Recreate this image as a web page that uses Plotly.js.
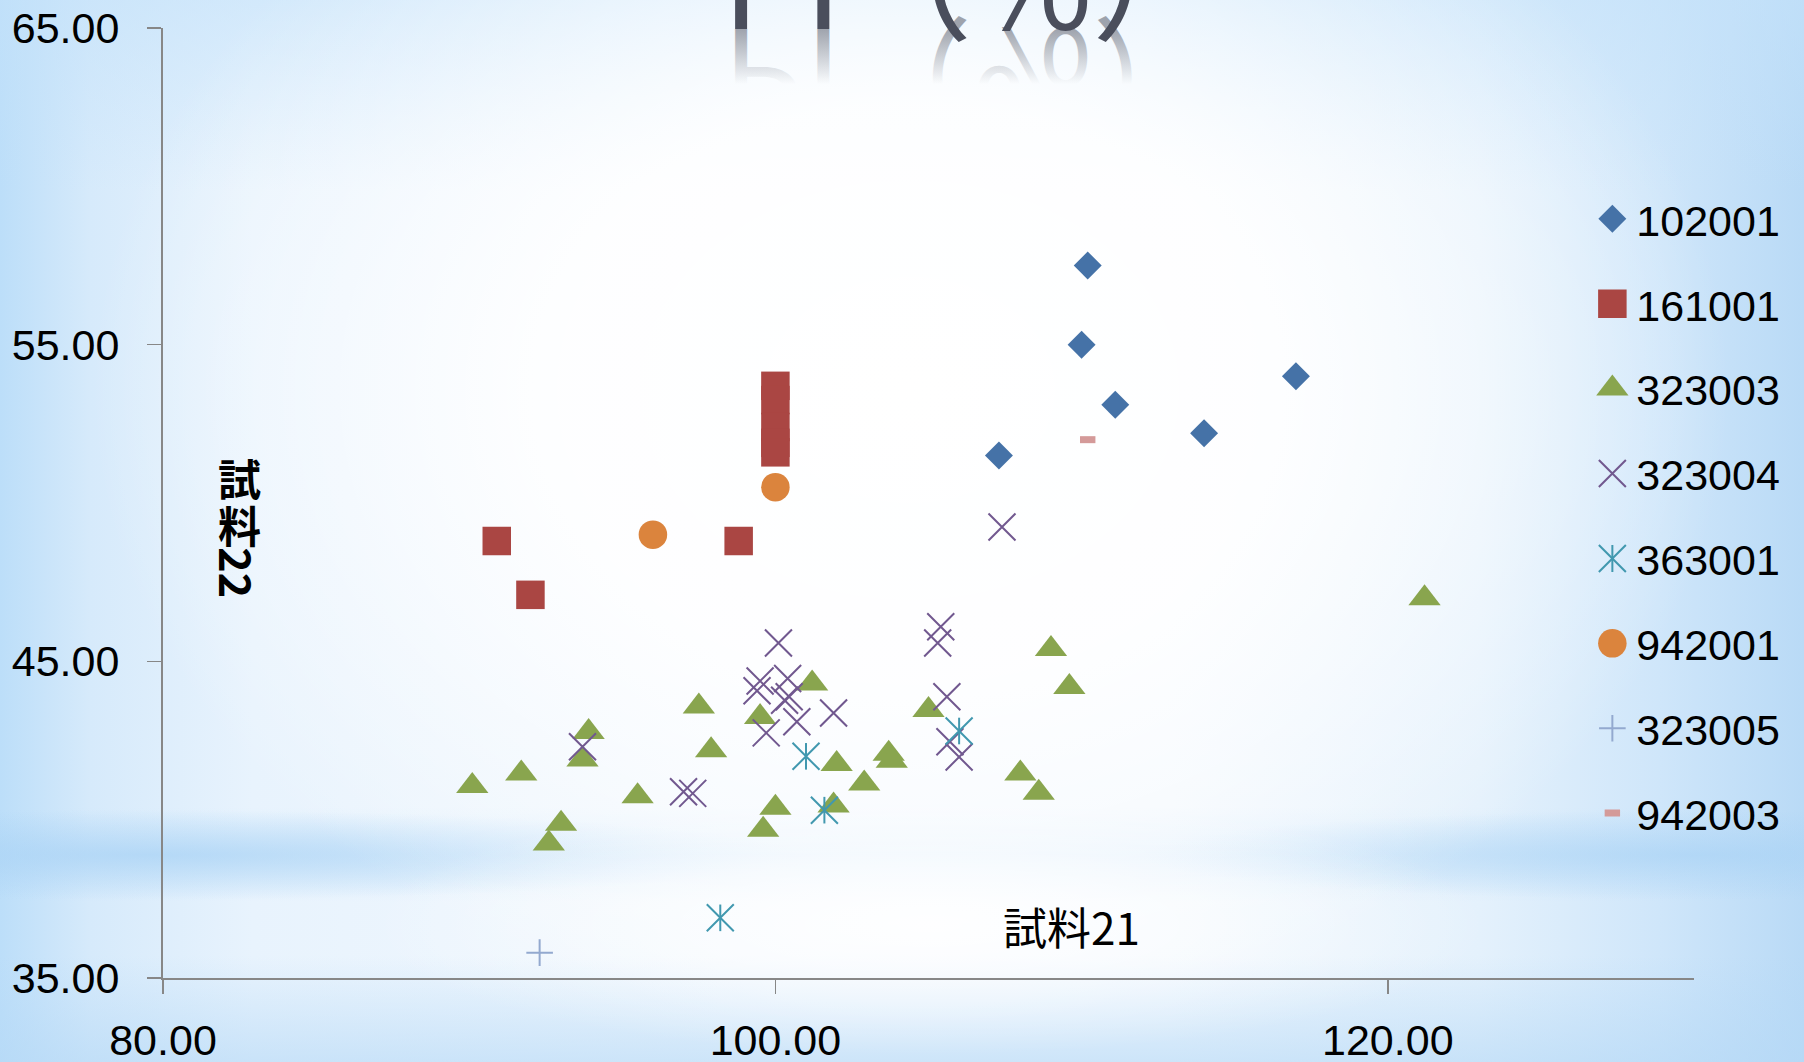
<!DOCTYPE html>
<html>
<head>
<meta charset="utf-8">
<script src="https://cdn.plot.ly/plotly-3.0.1.min.js"></script>
<style>
  html, body { margin: 0; padding: 0; }
  body { width: 1804px; height: 1062px; overflow: hidden; position: relative; }
  #backdrop {
    position: absolute; left: 0; top: 0; width: 1804px; height: 1062px;
    background:
      radial-gradient(ellipse 560px 130px at 930px 925px, rgba(255,255,255,0.9) 0%, rgba(255,255,255,0) 100%),
      radial-gradient(ellipse 820px 640px at 910px 390px, rgba(255,255,255,1) 0%, rgba(255,255,255,0.9) 45%, rgba(255,255,255,0) 100%),
      radial-gradient(ellipse 650px 45px at 150px 855px, rgba(168,210,245,0.7) 0%, rgba(168,210,245,0) 100%),
      radial-gradient(ellipse 560px 45px at 1700px 855px, rgba(168,210,245,0.65) 0%, rgba(168,210,245,0) 100%),
      linear-gradient(to bottom, rgba(185,220,248,0) 0%, rgba(185,220,248,0) 76%, rgba(185,220,248,0.3) 80.5%, rgba(185,220,248,0) 85%, rgba(185,220,248,0) 90%, rgba(180,216,246,0.6) 100%),
      linear-gradient(to bottom, rgba(196,226,250,0.6) 0%, rgba(196,226,250,0) 18%),
      linear-gradient(to right, #BCDEF9 0%, #D6EAFB 5%, #E8F3FD 14%, #F2F8FE 40%, #F2F8FE 65%, #E4F1FC 82%, #CFE6FA 92%, #B9DAF6 100%);
  }
  #chart { position: absolute; left: 0; top: 0; width: 1804px; height: 1062px; }
</style>
</head>
<body>
<div id="backdrop"></div>
<div id="chart"></div>
<script>
// ---- data: 試料21 (x) vs 試料22 (y) for each sample group ----
const SERIES_NAMES = ['102001', '161001', '323003', '323004', '363001', '942001', '323005', '942003'];

const S102001_X = [110.2, 110.0, 111.1, 117.0, 114.0, 107.3];
const S102001_Y = [57.5, 55.0, 53.1, 54.0, 52.2, 51.5];

const S161001_X = [90.9, 92.0, 98.8, 100.0, 100.0, 100.0, 100.0, 100.0];
const S161001_Y = [48.8, 47.1, 48.8, 53.7, 53.25, 52.4, 51.9, 51.6];

const S323003_X = [90.1, 91.7, 92.6, 93.0, 93.7, 93.9, 95.5, 97.5, 97.9, 99.5, 99.6, 100.0,
                   101.2, 101.9, 102.0, 102.9, 103.7, 103.8, 105.0, 108.0, 108.6, 109.0, 109.6, 121.2];
const S323003_Y = [41.06, 41.46, 39.25, 39.87, 41.9, 42.77, 40.74, 43.57, 42.19, 43.24, 39.68, 40.38,
                   44.3, 40.45, 41.76, 41.14, 42.08, 41.86, 43.46, 41.46, 40.85, 45.39, 44.19, 46.99];

const S323004_X = [93.7, 100.1, 105.4, 105.3, 99.5, 99.4, 100.4, 100.45, 100.3, 100.7, 101.9, 99.7,
                   105.6, 105.7, 106.0, 97.0, 97.3, 107.4];
const S323004_Y = [42.3, 45.58, 46.09, 45.58, 44.38, 44.07, 44.46, 43.88, 43.77, 43.09, 43.37, 42.74,
                   43.88, 42.46, 41.98, 40.88, 40.83, 49.24];

const S363001_X = [98.2, 101.0, 101.6, 106.0];
const S363001_Y = [36.9, 42.0, 40.3, 42.8];

const S942001_X = [96.0, 100.0];
const S942001_Y = [49.0, 50.5];

const S323005_X = [92.3];
const S323005_Y = [35.8];

const S942003_X = [110.2];
const S942003_Y = [52.0];

const X_TICKS = [80, 100, 120];
const Y_TICKS = [35, 45, 55, 65];

const SERIES_X = [S102001_X, S161001_X, S323003_X, S323004_X, S363001_X, S942001_X, S323005_X, S942003_X];
const SERIES_Y = [S102001_Y, S161001_Y, S323003_Y, S323004_Y, S363001_Y, S942001_Y, S323005_Y, S942003_Y];

// ---- marker styles (one per series) ----
const MARKERS = [
  { symbol: 'diamond',         size: 21.5, color: '#4572A7', lw: 0 },
  { symbol: 'square',          size: 28.5, color: '#AA4643', lw: 0 },
  { symbol: 'triangle-up',     size: 28,   color: '#89A54E', lw: 0 },
  { symbol: 'x-thin-open',     size: 27,   color: '#71588F', lw: 2 },
  { symbol: 'x-thin-open',     size: 27,   color: '#4198AF', lw: 2 },
  { symbol: 'circle',          size: 28.5, color: '#DB843D', lw: 0 },
  { symbol: 'cross-thin-open', size: 19,   color: '#93A9CF', lw: 2 },
  { symbol: 'line-ew-open',    size: 11,   color: '#D49A99', lw: 7 }
];
const STAR_INDEX = 4;              // 363001: an x with a vertical bar through it
const STAR_BAR_SIZE = 19;
const LEGEND_MAX_MARKER = 16;      // plotly caps legend symbols at this size

const FONT_LATIN = 'Liberation Sans, Arial, sans-serif';
const FONT_JP = 'Noto Sans CJK JP, sans-serif';

const traces = [];
SERIES_NAMES.forEach((name, i) => {
  const m = MARKERS[i];
  traces.push({
    type: 'scatter', mode: 'markers', name: name, legendgroup: name,
    x: SERIES_X[i], y: SERIES_Y[i],
    marker: { symbol: m.symbol, size: m.size, color: m.color,
              line: { width: m.lw, color: m.color } },
    hoverinfo: 'x+y+name'
  });
  if (i === STAR_INDEX) {
    traces.push({
      type: 'scatter', mode: 'markers', name: name, legendgroup: name, showlegend: false,
      x: SERIES_X[i], y: SERIES_Y[i],
      marker: { symbol: 'line-ns-open', size: STAR_BAR_SIZE, color: m.color,
                line: { width: m.lw, color: m.color } },
      hoverinfo: 'skip'
    });
  }
});

const axisCommon = {
  showgrid: false, zeroline: false,
  showline: true, linecolor: '#878787', linewidth: 2,
  ticks: 'outside', ticklen: 14, tickwidth: 1.5, tickcolor: '#878787',
  tickformat: '.2f',
  tickfont: { family: FONT_LATIN, size: 43, color: '#000000' }
};

const layout = {
  width: 1804, height: 1062,
  margin: { l: 163, r: 110, t: 28, b: 84, pad: 0 },
  paper_bgcolor: 'rgba(0,0,0,0)',
  plot_bgcolor: 'rgba(0,0,0,0)',
  showlegend: true,
  xaxis: Object.assign({}, axisCommon, {
    range: [80, 130], tickvals: X_TICKS, ticklabelstandoff: 9
  }),
  yaxis: Object.assign({}, axisCommon, {
    range: [35, 65], tickvals: Y_TICKS, ticklabelstandoff: 19
  }),
  legend: {
    x: 0.931, y: 0.8354, xanchor: 'left', yanchor: 'top',
    bgcolor: 'rgba(0,0,0,0)', borderwidth: 0,
    font: { family: FONT_LATIN, size: 43, color: '#000000' },
    tracegroupgap: 26, traceorder: 'grouped', itemwidth: 38
  },
  annotations: [
    { text: 'PI（%）', xref: 'paper', yref: 'paper', x: 0.5283, y: 0.9575,
      xanchor: 'center', yanchor: 'bottom', showarrow: false,
      font: { family: FONT_JP, size: 130, color: '#4A4E5C' } },
    { text: '試料21', xref: 'paper', yref: 'paper', x: 0.5936, y: 0.0547,
      xanchor: 'center', yanchor: 'middle', showarrow: false,
      font: { family: FONT_JP, size: 44, color: '#000000' } },
    { text: '<b>試</b>', xref: 'paper', yref: 'paper', x: 0.0500, y: 0.527,
      xanchor: 'center', yanchor: 'middle', showarrow: false,
      font: { family: FONT_JP, size: 43, color: '#000000' } },
    { text: '<b>料</b>', xref: 'paper', yref: 'paper', x: 0.0500, y: 0.478,
      xanchor: 'center', yanchor: 'middle', showarrow: false,
      font: { family: FONT_JP, size: 43, color: '#000000' } },
    { text: '<b>22</b>', xref: 'paper', yref: 'paper', x: 0.0490, y: 0.427,
      xanchor: 'center', yanchor: 'middle', showarrow: false, textangle: 90,
      font: { family: FONT_JP, size: 43, color: '#000000' } }
  ]
};

const gd = document.getElementById('chart');

// Enlarge legend symbols to the same size as the plotted markers.
function sizeLegendMarkers() {
  const items = gd.querySelectorAll('g.legend g.traces');
  items.forEach((item, i) => {
    const m = MARKERS[i];
    const p = item.querySelector('path.scatterpts');
    if (!m || !p) return;
    const k = m.size / Math.min(m.size, LEGEND_MAX_MARKER);
    const base = p.getAttribute('transform') || '';
    p.setAttribute('transform', base + ' scale(' + k + ')');
    if (m.lw > 0) p.style.strokeWidth = (m.lw / k) + 'px';
    if (i === STAR_INDEX) {
      const d = p.getAttribute('d') || '';
      const r = parseFloat(d.slice(1));
      const bar = p.cloneNode(true);
      bar.setAttribute('d', 'M0,' + r + 'V-' + r);
      p.parentNode.appendChild(bar);
    }
  });
}

// Mirrored, fading copy of the chart title under its baseline.
function addTitleReflection() {
  const t = gd.querySelector('g.annotation[data-index="0"] text.annotation-text');
  if (!t) return;
  const yb = parseFloat(t.getAttribute('y'));
  const ns = 'http://www.w3.org/2000/svg';
  const svg = t.ownerSVGElement;
  let defs = svg.querySelector('defs');
  if (!defs) { defs = document.createElementNS(ns, 'defs'); svg.insertBefore(defs, svg.firstChild); }
  const grad = document.createElementNS(ns, 'linearGradient');
  grad.setAttribute('id', 'title-fade');
  grad.setAttribute('gradientUnits', 'userSpaceOnUse');
  grad.setAttribute('x1', 0); grad.setAttribute('x2', 0);
  grad.setAttribute('y1', yb); grad.setAttribute('y2', yb - 55);
  [[0, 0.5], [1, 0]].forEach(([o, a]) => {
    const s = document.createElementNS(ns, 'stop');
    s.setAttribute('offset', o);
    s.setAttribute('stop-color', '#4A4E5C');
    s.setAttribute('stop-opacity', a);
    grad.appendChild(s);
  });
  defs.appendChild(grad);
  const c = t.cloneNode(true);
  c.setAttribute('transform', 'translate(0,' + (2 * yb) + ') scale(1,-1)');
  c.style.fill = 'url(#title-fade)';
  c.style.fillOpacity = '1';
  t.parentNode.insertBefore(c, t);
}

Plotly.newPlot(gd, traces, layout, { displayModeBar: false, staticPlot: true }).then(() => {
  sizeLegendMarkers();
  addTitleReflection();
});
</script>
</body>
</html>
